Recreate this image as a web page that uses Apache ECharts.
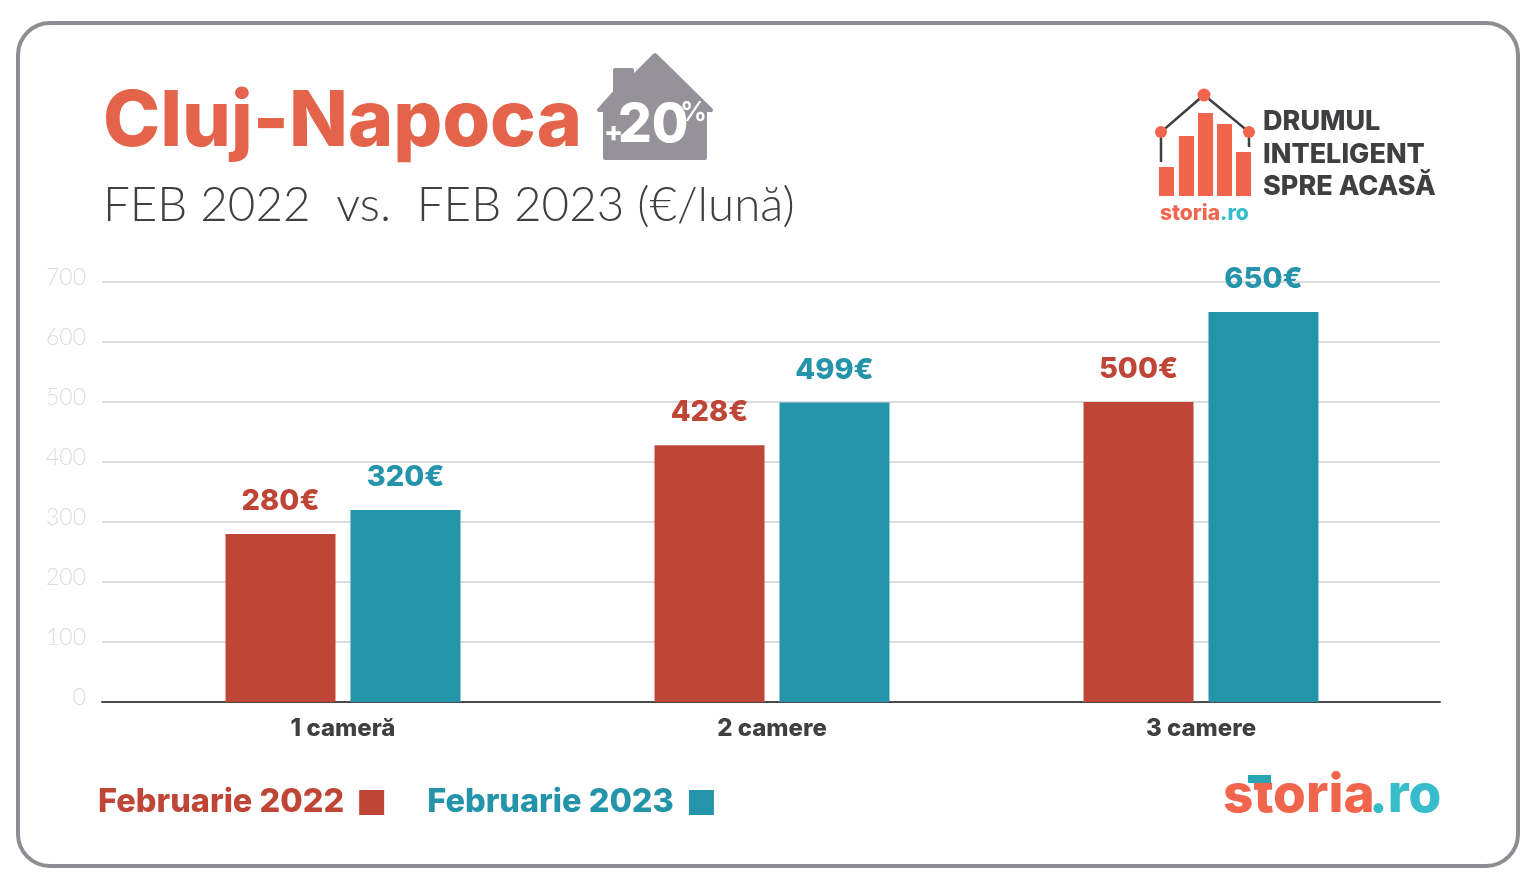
<!DOCTYPE html>
<html lang="ro">
<head>
    <meta charset="UTF-8">
    <title>Cluj-Napoca chirii</title>
    <script src="https://cdnjs.cloudflare.com/ajax/libs/echarts/6.0.0/echarts.min.js"></script>
    <style>
        * { margin: 0; padding: 0; box-sizing: border-box; }
        body { background: #fff; }
        #main { width: 1536px; height: 889px; }
    </style>
</head>
<body>
    <div id="main"></div>
    <script>
        // date
        const categories = ['1 cameră', '2 camere', '3 camere'];
        const values2022 = [280, 428, 500];
        const values2023 = [320, 499, 650];
        const name2022 = 'Februarie 2022';
        const name2023 = 'Februarie 2023';

        const RED = '#bf4637';
        const TEAL = '#2394a9';
        const CORAL = '#e4634b';
        const LOGO = '#f2654d';
        const SKY = '#36bccb';
        const DARK = '#3f3f41';
        const GREY = '#959299';
        const FONT = 'Lato, sans-serif';
        const HEAVY = 'Inter, sans-serif';

        const myChart = echarts.init(document.getElementById('main'));

        function barSeries(name, values, color) {
            return {
                name: name,
                type: 'bar',
                xAxisIndex: 1,
                yAxisIndex: 1,
                data: values,
                barWidth: 110,
                barGap: '13.6%',
                itemStyle: { color: color },
                label: {
                    show: true,
                    position: 'top',
                    distance: 18,
                    formatter: '{c}€',
                    color: color,
                    fontFamily: HEAVY,
                    fontWeight: 800,
                    fontSize: 29
                }
            };
        }

        function txt(x, y, text, fontSize, fill, fontWeight, extra) {
            return {
                type: 'text',
                x: x,
                y: y,
                style: Object.assign({
                    text: text,
                    fontSize: fontSize,
                    fontFamily: HEAVY,
                    fontWeight: fontWeight,
                    fill: fill,
                    verticalAlign: 'middle'
                }, extra || {})
            };
        }

        // cadru, casuta si sigle
        const decor = [
            { type: 'rect', shape: { x: 18, y: 23, width: 1500, height: 843, r: 32 }, style: { fill: '#fff', stroke: '#8f8d94', lineWidth: 4 }, z: -10 },
            { type: 'polygon', shape: { points: [[655, 55], [711, 110], [705, 110], [705, 158], [605, 158], [605, 110], [599, 110], [615, 92], [615, 70], [632, 70], [632, 78]] }, style: { fill: GREY, stroke: GREY, lineWidth: 4, lineJoin: 'round' } },
            txt(604, 134, '+', 28, '#fff', 800),
            txt(618, 126, '20', 53, '#fff', 800),
            txt(680, 113, '%', 27, '#fff', 600),

            { type: 'polyline', shape: { points: [[1161, 162], [1161, 132], [1204, 95], [1249, 132], [1249, 147]] }, style: { stroke: DARK, lineWidth: 2.5, fill: null } },
            { type: 'rect', shape: { x: 1159, y: 167, width: 15, height: 29 }, style: { fill: LOGO } },
            { type: 'rect', shape: { x: 1179, y: 136, width: 15, height: 60 }, style: { fill: LOGO } },
            { type: 'rect', shape: { x: 1198, y: 113, width: 15, height: 83 }, style: { fill: LOGO } },
            { type: 'rect', shape: { x: 1217, y: 124, width: 15, height: 72 }, style: { fill: LOGO } },
            { type: 'rect', shape: { x: 1236, y: 152, width: 15, height: 44 }, style: { fill: LOGO } },
            { type: 'circle', shape: { cx: 1161, cy: 132, r: 6 }, style: { fill: LOGO } },
            { type: 'circle', shape: { cx: 1204, cy: 95, r: 6.5 }, style: { fill: LOGO } },
            { type: 'circle', shape: { cx: 1249, cy: 132, r: 6 }, style: { fill: LOGO } },
            txt(1263, 122, 'DRUMUL', 27, DARK, 800),
            txt(1263, 155, 'INTELIGENT', 27, DARK, 800),
            txt(1263, 187, 'SPRE ACASĂ', 27, DARK, 800),
            txt(1160, 214, 'storia', 21, LOGO, 800),
            txt(1220, 214, '.ro', 21, SKY, 800),

            txt(1223, 796, 'storia', 53, LOGO, 800),
            txt(1369, 796, '.ro', 53, SKY, 800),
            { type: 'rect', shape: { x: 1248, y: 775, width: 23, height: 8 }, style: { fill: '#2aa5b5' } }
        ];

        const option = {
            backgroundColor: '#fff',
            animation: false,
            title: [
                {
                    text: 'Cluj-Napoca',
                    left: 98,
                    top: 79,
                    textStyle: { color: CORAL, fontFamily: HEAVY, fontWeight: 800, fontSize: 77 }
                },
                {
                    text: 'FEB 2022  vs.  FEB 2023 (€/lună)',
                    left: 98,
                    top: 177,
                    textStyle: { color: DARK, fontFamily: FONT, fontWeight: 300, fontSize: 47.5 }
                }
            ],
            legend: {
                left: 98,
                top: 786,
                padding: 0,
                align: 'right',
                icon: 'rect',
                itemWidth: 25,
                itemHeight: 25,
                itemGap: 43,
                selectedMode: false,
                textStyle: { fontFamily: HEAVY, fontWeight: 800, fontSize: 32.5, padding: [3, 10, 0, 0] },
                data: [
                    { name: name2022, textStyle: { color: RED } },
                    { name: name2023, textStyle: { color: TEAL } }
                ]
            },
            // primul grid tine liniile, al doilea tine barele
            grid: [
                { left: 102, right: 96, top: 282, bottom: 187 },
                { left: 128.5, width: 1287, top: 282, bottom: 187 }
            ],
            xAxis: [
                {
                    type: 'category',
                    gridIndex: 0,
                    data: categories,
                    axisTick: { show: false },
                    axisLabel: { show: false },
                    axisLine: { show: true, onZero: false, lineStyle: { color: '#4a4a4c', width: 2 } }
                },
                {
                    type: 'category',
                    gridIndex: 1,
                    data: categories,
                    axisTick: { show: false },
                    axisLine: { show: false },
                    axisLabel: { margin: 15, color: DARK, fontFamily: HEAVY, fontWeight: 800, fontSize: 24 }
                }
            ],
            yAxis: [
                {
                    type: 'value',
                    gridIndex: 0,
                    min: 0,
                    max: 700,
                    interval: 100,
                    axisLine: { show: false },
                    axisTick: { show: false },
                    splitLine: { lineStyle: { color: '#dcdcde', width: 2 } },
                    axisLabel: { margin: 16, verticalAlign: 'bottom', lineHeight: 8, color: '#dcdcde', fontFamily: FONT, fontWeight: 300, fontSize: 23 }
                },
                {
                    type: 'value',
                    gridIndex: 1,
                    min: 0,
                    max: 700,
                    interval: 100,
                    show: false,
                    splitLine: { show: false }
                }
            ],
            series: [
                barSeries(name2022, values2022, RED),
                barSeries(name2023, values2023, TEAL)
            ],
            graphic: { elements: decor }
        };

        myChart.setOption(option);
    </script>
</body>
</html>
